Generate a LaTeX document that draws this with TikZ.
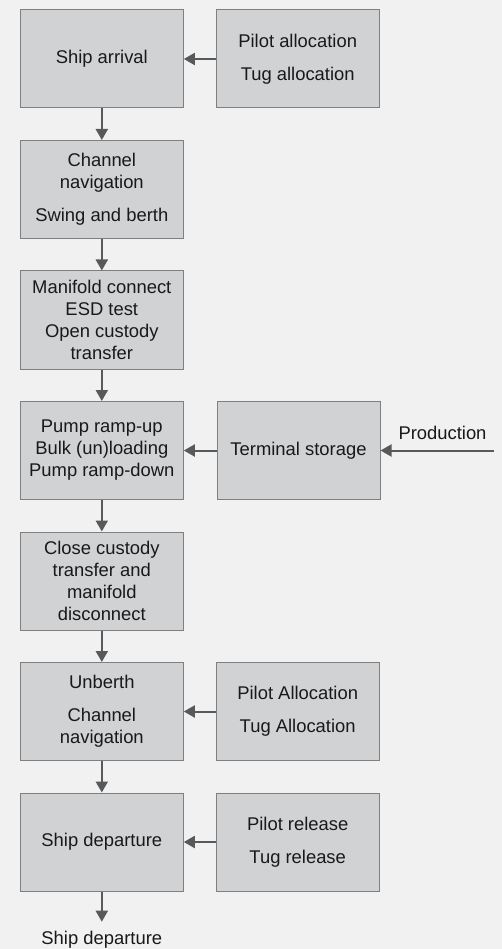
\documentclass[tikz,border=0pt]{standalone}
\usepackage{fontspec}
\setmainfont{Liberation Sans}
\usetikzlibrary{arrows.meta}
\definecolor{bgcol}{HTML}{F1F1F1}
\definecolor{boxcol}{HTML}{D1D2D4}
\definecolor{edgecol}{HTML}{7F7F80}
\definecolor{arrcol}{HTML}{58595B}

\begin{document}
\begin{tikzpicture}[x=1pt, y=-1pt,
  stage/.style={rectangle, draw=edgecol, line width=1pt, fill=boxcol, minimum width=163pt, minimum height=98pt, inner sep=0pt, align=center, text=black!90, font=\fontsize{18.4}{22}\selectfont},
  plain/.style={inner sep=0pt, text=black!90, font=\fontsize{18.4}{22}\selectfont},
  flow/.style={draw=arrcol, line width=2pt, -{Triangle[length=11pt, width=12pt]}}]
  \useasboundingbox (0,0) rectangle (502,949);
  \fill[bgcol] (0,0) rectangle (502,949);
  \node[stage] (arrival) at (101.8,59) {Ship arrival};
  \node[stage] (channel) at (101.8,189.5) {Channel\\navigation\\[10.7pt]Swing and berth};
  \node[stage] (manifold) at (101.8,320) {Manifold connect\\ESD test\\Open custody\\transfer};
  \node[stage] (pump) at (101.8,450.5) {Pump ramp-up\\Bulk (un)loading\\Pump ramp-down};
  \node[stage] (close) at (101.8,581) {Close custody\\transfer and\\manifold\\disconnect};
  \node[stage] (unberth) at (101.8,711.5) {Unberth\\[10.7pt]Channel\\navigation};
  \node[stage] (depart) at (101.8,842) {Ship departure};
  \node[stage] (pilotin) at (297.7,59) {Pilot allocation\\[10.7pt]Tug allocation};
  \node[stage] (storage) at (298.5,450.5) {Terminal storage};
  \node[stage] (pilotout) at (297.7,711.5) {Pilot Allocation\\[10.7pt]Tug Allocation};
  \node[stage] (release) at (297.7,842) {Pilot release\\[10.7pt]Tug release};
  \node[plain, inner ysep=9.5pt] (out) at (101.8,940) {Ship departure};
  \node[plain] (prod) at (442.5,433) {Production};
  \coordinate (src) at (494,450.5);
  \draw[flow] (arrival) -- (channel);
  \draw[flow] (channel) -- (manifold);
  \draw[flow] (manifold) -- (pump);
  \draw[flow] (pump) -- (close);
  \draw[flow] (close) -- (unberth);
  \draw[flow] (unberth) -- (depart);
  \draw[flow] (depart) -- (out);
  \draw[flow] (pilotin) -- (arrival);
  \draw[flow] (storage) -- (pump);
  \draw[flow] (src) -- (storage);
  \draw[flow] (pilotout) -- (unberth);
  \draw[flow] (release) -- (depart);
\end{tikzpicture}
\end{document}
